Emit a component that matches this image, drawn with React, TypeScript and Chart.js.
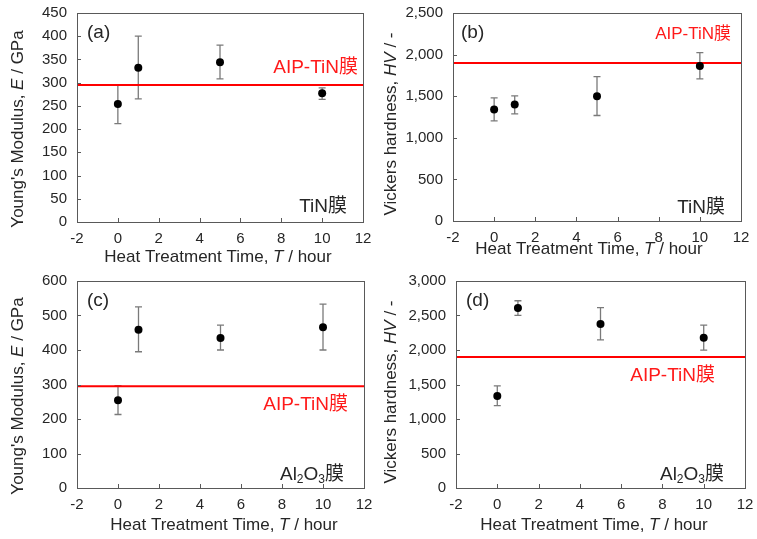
import React, { useEffect, useRef } from "react";
import { Chart, registerables } from "chart.js";
Chart.register(...registerables);

// ---------- data ----------
const times = [0, 1, 5, 10];
const xTicksMin = -2;
const xTicksMax = 12;

const youngTiN = [254, 332, 344, 277];
const youngTiNLow = [212, 265, 308, 264];
const youngTiNHigh = [294, 400, 381, 289];

const hvTiN = [1340, 1400, 1500, 1864];
const hvTiNLow = [1204, 1288, 1268, 1708];
const hvTiNHigh = [1480, 1504, 1736, 2024];

const youngAl2O3 = [254, 459, 435, 466];
const youngAl2O3Low = [213, 395, 400, 400];
const youngAl2O3High = [297, 525, 472, 533];

const hvAl2O3 = [1335, 2608, 2376, 2177];
const hvAl2O3Low = [1195, 2502, 2148, 1998];
const hvAl2O3High = [1480, 2714, 2613, 2361];

const aipYoung = 295;
const aipHV = 1900;

const FONT = '"Liberation Sans", Arial, "Noto Sans CJK JP", sans-serif';
const TEXT = "#262626";

type Seg = [string, boolean];
const yTitleE: Seg[] = [["Young's Modulus, ", false], ["E", true], [" / GPa", false]];
const yTitleHV: Seg[] = [["Vickers hardness, ", false], ["HV", true], [" / -", false]];
const xTitle: Seg[] = [["Heat Treatment Time, ", false], ["T", true], [" / hour", false]];

interface PanelCfg {
  ox: number; oy: number; w: number; h: number;
  L: number; R: number; T: number; B: number;
  yMax: number; yStep: number; comma: boolean;
  vals: number[]; low: number[]; high: number[]; aip: number;
  yTitle: Seg[]; yTitlePos: [number, number];
  xTitlePos: [number, number];
  tag: string; tagPos: [number, number];
  aipPos: [number, number]; aipSize: number;
  film: "TiN" | "Al2O3"; filmPos: [number, number];
}

const panels: PanelCfg[] = [
  {
    ox: 0, oy: 0, w: 378, h: 268, L: 77, R: 363, T: 13, B: 222,
    yMax: 450, yStep: 50, comma: false,
    vals: youngTiN, low: youngTiNLow, high: youngTiNHigh, aip: aipYoung,
    yTitle: yTitleE, yTitlePos: [18, 129], xTitlePos: [218, 257],
    tag: "(a)", tagPos: [87, 33], aipPos: [358, 68], aipSize: 19, film: "TiN", filmPos: [347, 207],
  },
  {
    ox: 378, oy: 0, w: 379, h: 268, L: 453, R: 741, T: 13, B: 221,
    yMax: 2500, yStep: 500, comma: true,
    vals: hvTiN, low: hvTiNLow, high: hvTiNHigh, aip: aipHV,
    yTitle: yTitleHV, yTitlePos: [391, 124], xTitlePos: [589, 249],
    tag: "(b)", tagPos: [461, 33], aipPos: [731, 34], aipSize: 17, film: "TiN", filmPos: [725, 208],
  },
  {
    ox: 0, oy: 268, w: 378, h: 271, L: 77, R: 364, T: 281, B: 488,
    yMax: 600, yStep: 100, comma: false,
    vals: youngAl2O3, low: youngAl2O3Low, high: youngAl2O3High, aip: aipYoung,
    yTitle: yTitleE, yTitlePos: [18, 396], xTitlePos: [224, 525],
    tag: "(c)", tagPos: [87, 301], aipPos: [348, 405], aipSize: 19, film: "Al2O3", filmPos: [344, 475],
  },
  {
    ox: 378, oy: 268, w: 379, h: 271, L: 456, R: 745, T: 281, B: 488,
    yMax: 3000, yStep: 500, comma: true,
    vals: hvAl2O3, low: hvAl2O3Low, high: hvAl2O3High, aip: aipHV,
    yTitle: yTitleHV, yTitlePos: [391, 392], xTitlePos: [594, 525],
    tag: "(d)", tagPos: [466, 301], aipPos: [715, 376], aipSize: 19, film: "Al2O3", filmPos: [724, 475],
  },
];

function drawSegs(ctx: CanvasRenderingContext2D, segs: Seg[], size: number, cx: number, cy: number, rot: boolean) {
  ctx.save();
  ctx.translate(cx, cy);
  if (rot) ctx.rotate(-Math.PI / 2);
  ctx.textBaseline = "middle";
  ctx.textAlign = "left";
  ctx.fillStyle = TEXT;
  let total = 0;
  for (const [t, it] of segs) {
    ctx.font = `${it ? "italic " : ""}${size}px ${FONT}`;
    total += ctx.measureText(t).width;
  }
  let x = -total / 2;
  for (const [t, it] of segs) {
    ctx.font = `${it ? "italic " : ""}${size}px ${FONT}`;
    ctx.fillText(t, x, 0);
    x += ctx.measureText(t).width;
  }
  ctx.restore();
}

function zeroPad(s: any) {
  s.paddingTop = 0;
  s.paddingBottom = 0;
  s.paddingLeft = 0;
  s.paddingRight = 0;
}

function Panel({ cfg }: { cfg: PanelCfg }) {
  const ref = useRef<HTMLCanvasElement | null>(null);
  useEffect(() => {
    if (!ref.current) return;
    const ox = cfg.ox, oy = cfg.oy;
    const overlay = {
      id: "overlay" + cfg.tag.replace(/[()]/g, ""),
      beforeDatasetsDraw(chart: any) {
        const ctx = chart.ctx as CanvasRenderingContext2D;
        const xs = chart.scales.x, ys = chart.scales.y;
        ctx.save();
        ctx.strokeStyle = "#7a7a7a";
        ctx.lineWidth = 1.3;
        times.forEach((t, i) => {
          const px = xs.getPixelForValue(t);
          const y1 = ys.getPixelForValue(cfg.low[i]);
          const y2 = ys.getPixelForValue(cfg.high[i]);
          ctx.beginPath();
          ctx.moveTo(px, y1); ctx.lineTo(px, y2);
          ctx.moveTo(px - 3.5, y1); ctx.lineTo(px + 3.5, y1);
          ctx.moveTo(px - 3.5, y2); ctx.lineTo(px + 3.5, y2);
          ctx.stroke();
        });
        ctx.restore();
      },
      afterDraw(chart: any) {
        const ctx = chart.ctx as CanvasRenderingContext2D;
        const a = chart.chartArea;
        const xs = chart.scales.x, ys = chart.scales.y;
        ctx.save();
        // frame
        ctx.strokeStyle = "#595959";
        ctx.lineWidth = 1;
        ctx.strokeRect(Math.round(a.left) + 0.5, Math.round(a.top) + 0.5, Math.round(a.right - a.left), Math.round(a.bottom - a.top));
        // inside ticks
        ctx.beginPath();
        xs.ticks.forEach((tk: any) => {
          const px = Math.round(xs.getPixelForValue(tk.value)) + 0.5;
          ctx.moveTo(px, a.bottom); ctx.lineTo(px, a.bottom - 4);
        });
        ys.ticks.forEach((tk: any) => {
          const py = Math.round(ys.getPixelForValue(tk.value)) + 0.5;
          ctx.moveTo(a.left, py); ctx.lineTo(a.left + 4, py);
        });
        ctx.stroke();
        ctx.restore();

        // axis titles
        drawSegs(ctx, cfg.yTitle, 17, cfg.yTitlePos[0] - ox, cfg.yTitlePos[1] - oy, true);
        drawSegs(ctx, xTitle, 17, cfg.xTitlePos[0] - ox, cfg.xTitlePos[1] - oy, false);

        ctx.save();
        ctx.textBaseline = "middle";
        // tag
        ctx.font = `19px ${FONT}`;
        ctx.fillStyle = TEXT;
        ctx.textAlign = "left";
        ctx.fillText(cfg.tag, cfg.tagPos[0] - ox, cfg.tagPos[1] - oy);
        // AIP label
        ctx.font = `${cfg.aipSize}px ${FONT}`;
        ctx.fillStyle = "#ff1a1a";
        ctx.textAlign = "right";
        ctx.fillText("AIP-TiN膜", cfg.aipPos[0] - ox, cfg.aipPos[1] - oy);
        // film label
        ctx.font = `19px ${FONT}`;
        ctx.fillStyle = TEXT;
        if (cfg.film === "TiN") {
          ctx.textAlign = "right";
          ctx.fillText("TiN膜", cfg.filmPos[0] - ox, cfg.filmPos[1] - oy);
        } else {
          const parts: [string, boolean][] = [["Al", false], ["2", true], ["O", false], ["3", true], ["膜", false]];
          let total = 0;
          for (const [t, sub] of parts) {
            ctx.font = `${sub ? 12 : 19}px ${FONT}`;
            total += ctx.measureText(t).width;
          }
          let x = cfg.filmPos[0] - ox - total;
          const y = cfg.filmPos[1] - oy;
          ctx.textAlign = "left";
          for (const [t, sub] of parts) {
            ctx.font = `${sub ? 12 : 19}px ${FONT}`;
            ctx.fillText(t, x, sub ? y + 5 : y);
            x += ctx.measureText(t).width;
          }
        }
        ctx.restore();
      },
    };

    const chart = new Chart(ref.current, {
      type: "scatter",
      data: {
        datasets: [
          {
            label: "AIP-TiN",
            data: [{ x: xTicksMin, y: cfg.aip }, { x: xTicksMax, y: cfg.aip }],
            showLine: true,
            borderColor: "#ff0000",
            borderWidth: 2,
            pointRadius: 0,
            order: 2,
          } as any,
          {
            label: "data",
            data: times.map((t, i) => ({ x: t, y: cfg.vals[i] })),
            backgroundColor: "#000000",
            borderColor: "#000000",
            pointRadius: 4,
            pointBorderWidth: 0,
            order: 1,
          },
        ],
      },
      options: {
        responsive: false,
        animation: false,
        devicePixelRatio: 1,
        layout: { padding: { left: 0, top: cfg.T - oy, right: cfg.w - (cfg.R - ox), bottom: 0 } },
        plugins: { legend: { display: false }, tooltip: { enabled: false } },
        scales: {
          x: {
            type: "linear",
            min: xTicksMin,
            max: xTicksMax,
            grid: { display: false, drawTicks: false },
            border: { display: false },
            ticks: { stepSize: 2, padding: 8, color: TEXT, font: { family: FONT, size: 15 }, maxRotation: 0 },
            afterFit: (s: any) => { s.height = cfg.h - (cfg.B - oy); zeroPad(s); },
          },
          y: {
            type: "linear",
            min: 0,
            max: cfg.yMax,
            grid: { display: false, drawTicks: false },
            border: { display: false },
            ticks: {
              stepSize: cfg.yStep,
              padding: 10,
              color: TEXT,
              font: { family: FONT, size: 15 },
              callback: (v: any) => (cfg.comma ? Number(v).toLocaleString("en-US") : String(v)),
            },
            afterFit: (s: any) => { s.width = cfg.L - ox; zeroPad(s); },
          },
        },
      },
      plugins: [overlay],
    });
    return () => chart.destroy();
  }, [cfg]);
  return (
    <canvas
      ref={ref}
      width={cfg.w}
      height={cfg.h}
      style={{ position: "absolute", left: cfg.ox, top: cfg.oy, width: cfg.w, height: cfg.h }}
    />
  );
}

export default function App() {
  return (
    <div style={{ position: "fixed", left: 0, top: 0, width: 757, height: 539, background: "#fff", overflow: "hidden" }}>
      {panels.map((p) => (
        <Panel key={p.tag} cfg={p} />
      ))}
    </div>
  );
}
